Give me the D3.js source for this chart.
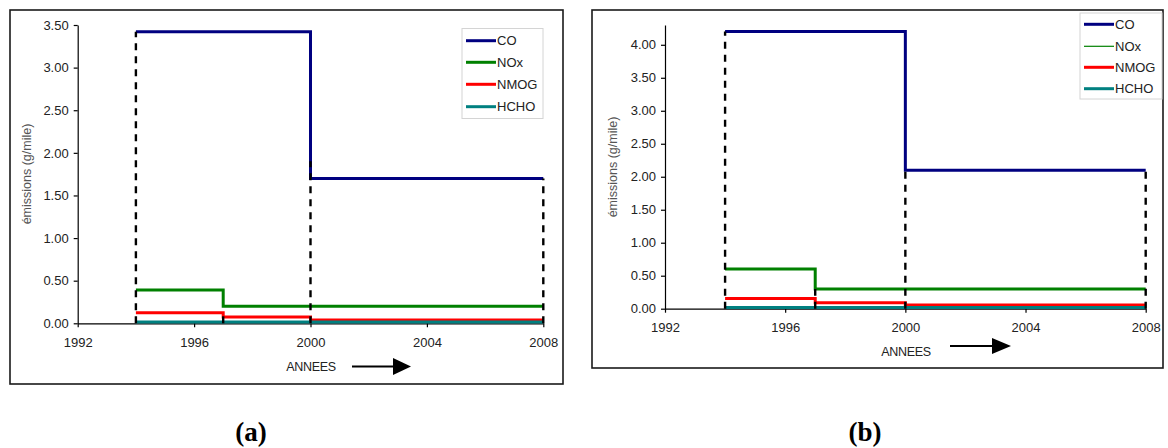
<!DOCTYPE html>
<html><head><meta charset="utf-8">
<script src="https://cdn.jsdelivr.net/npm/d3@7"></script>
<style>
html,body{margin:0;padding:0;background:#fff;}
svg{display:block;}
</style></head>
<body>
<svg id="chart" width="1168" height="448"></svg>
<script>
// ---------- data ----------
const seriesNames = ["CO", "NOx", "NMOG", "HCHO"];
const seriesColors = ["#000080", "#008000", "#ff0000", "#008080"];
const xTicks = [1992, 1996, 2000, 2004, 2008];
const yTicksA = [0, 0.5, 1, 1.5, 2, 2.5, 3, 3.5];
const yTicksB = [0, 0.5, 1, 1.5, 2, 2.5, 3, 3.5, 4];

// step breakpoints (years) and values per interval — panel (a)
const coYearsA = [1994, 2000, 2008],        coValsA = [3.42, 1.70];
const noxYearsA = [1994, 1997, 2008],       noxValsA = [0.39, 0.20];
const nmogYearsA = [1994, 1997, 2000, 2008], nmogValsA = [0.125, 0.075, 0.04];
const hchoYearsA = [1994, 2008],            hchoValsA = [0.015];
const guideYearsA = [1994, 1997, 2000, 2008], guideTopsA = [3.42, 0.13, 1.9, 1.70];

// panel (b)
const coYearsB = [1994, 2000, 2008],        coValsB = [4.2, 2.1];
const noxYearsB = [1994, 1997, 2008],       noxValsB = [0.6, 0.3];
const nmogYearsB = [1994, 1997, 2000, 2008], nmogValsB = [0.156, 0.09, 0.055];
const hchoYearsB = [1994, 2008],            hchoValsB = [0.018];
const guideYearsB = [1994, 1997, 2000, 2008], guideTopsB = [4.2, 0.3, 2.1, 2.1];

const yTitle = "émissions (g/mile)";
const xTitle = "ANNEES";

// ---------- drawing ----------
const SANS = '"Liberation Sans",Arial,sans-serif';
const SERIF = '"Liberation Serif","Times New Roman",serif';
const svg = d3.select("#chart");

function fmt(v){ return d3.format(".2f")(v); }

function drawPanel(cfg){
  const g = svg.append("g");
  // frame
  g.append("rect").attr("x", cfg.frame[0]).attr("y", cfg.frame[1])
    .attr("width", cfg.frame[2]).attr("height", cfg.frame[3])
    .attr("fill", "none").attr("stroke", "#1a1a1a").attr("stroke-width", 1.6);

  const x = d3.scaleLinear().domain([1992, 2008]).range([cfg.x0, cfg.x1]);
  const y = d3.scaleLinear().domain([0, cfg.yMax]).range([cfg.y0, cfg.yTop]);

  // y axis
  const ya = g.append("g").attr("transform", `translate(${cfg.x0},0)`)
    .call(d3.axisLeft(y).tickValues(cfg.yTicks).tickFormat(fmt).tickSize(4).tickPadding(5).tickSizeOuter(0));
  ya.select(".domain").attr("stroke", "#000").attr("stroke-width", 1.2);
  ya.selectAll(".tick line").attr("stroke", "#000").attr("stroke-width", 1.2);
  ya.selectAll(".tick text").style("font-size", "13px").attr("fill", "#222").style("font-family", SANS);

  // x axis
  const xa = g.append("g").attr("transform", `translate(0,${cfg.y0})`)
    .call(d3.axisBottom(x).tickValues(xTicks).tickFormat(d3.format("d")).tickSize(4).tickPadding(cfg.xPad).tickSizeOuter(0));
  xa.select(".domain").attr("stroke", "#000").attr("stroke-width", 1.2);
  xa.selectAll(".tick line").attr("stroke", "#000").attr("stroke-width", 1.2);
  xa.selectAll(".tick text").style("font-size", "13px").attr("fill", "#222").style("font-family", SANS);

  // series (step lines)
  const line = d3.line().x(d => x(d[0])).y(d => y(d[1])).curve(d3.curveStepAfter);
  cfg.series.forEach((s, i) => {
    const pts = s.years.map((yr, k) => [yr, s.vals[Math.min(k, s.vals.length - 1)]]);
    g.append("path").attr("d", line(pts)).attr("fill", "none")
      .attr("stroke", seriesColors[i]).attr("stroke-width", 3);
  });

  // dashed guides
  cfg.guideYears.forEach((yr, k) => {
    g.append("line").attr("x1", x(yr)).attr("x2", x(yr))
      .attr("y1", y(0)).attr("y2", y(cfg.guideTops[k]))
      .attr("stroke", "#000").attr("stroke-width", 2.4)
      .attr("stroke-dasharray", "7,6");
  });

  // legend
  const lb = cfg.legend;
  g.append("rect").attr("x", lb.x).attr("y", lb.y).attr("width", lb.w).attr("height", lb.h)
    .attr("fill", "#fff").attr("stroke", "#d4d4d4").attr("stroke-width", 1);
  seriesNames.forEach((name, i) => {
    const yy = lb.items[i];
    g.append("line").attr("x1", lb.x + 4).attr("x2", lb.x + 34).attr("y1", yy).attr("y2", yy)
      .attr("stroke", seriesColors[i]).attr("stroke-width", lb.widths[i]);
    g.append("text").attr("x", lb.x + 35).attr("y", yy + 4.7).text(name)
      .style("font-family", SANS).style("font-size", "13px").attr("fill", "#222");
  });

  // y title
  g.append("text").attr("transform", `translate(${cfg.yTitle[0]},${cfg.yTitle[1]}) rotate(-90)`)
    .attr("text-anchor", "middle").style("font-family", SANS).style("font-size", "12.5px")
    .attr("fill", "#555").text(yTitle);

  // x title with arrow
  g.append("text").attr("x", cfg.annees[0]).attr("y", cfg.annees[1]).attr("text-anchor", "middle")
    .style("font-family", SANS).style("font-size", "12.5px").attr("fill", "#222")
    .attr("letter-spacing", -0.3).text(xTitle);
  const ar = cfg.arrow;
  g.append("line").attr("x1", ar.x1).attr("x2", ar.head + 1).attr("y1", ar.y).attr("y2", ar.y)
    .attr("stroke", "#000").attr("stroke-width", 2.2);
  g.append("path").attr("d", `M${ar.head},${ar.y - ar.h / 2}L${ar.x2},${ar.y}L${ar.head},${ar.y + ar.h / 2}Z`)
    .attr("fill", "#000");

  // caption
  svg.append("text").attr("x", cfg.caption[0]).attr("y", cfg.caption[1]).attr("text-anchor", "middle")
    .style("font-family", SERIF).style("font-weight", "bold")
    .style("font-size", "27px").attr("fill", "#000").text(cfg.caption[2]);
}

drawPanel({
  frame: [10, 10, 553, 374],
  x0: 77.7, x1: 543.3, y0: 323.3, yTop: 25, yMax: 3.5, yTicks: yTicksA, xPad: 10,
  series: [
    {years: coYearsA, vals: coValsA},
    {years: noxYearsA, vals: noxValsA},
    {years: nmogYearsA, vals: nmogValsA},
    {years: hchoYearsA, vals: hchoValsA}
  ],
  guideYears: guideYearsA, guideTops: guideTopsA,
  legend: {x: 462, y: 28.5, w: 81, h: 90, items: [40.7, 62.3, 84.3, 106.7], widths: [3, 3, 3, 3]},
  yTitle: [31, 174],
  annees: [311, 371],
  arrow: {x1: 352, x2: 411, head: 393, y: 366.5, h: 17},
  caption: [251, 441, "(a)"]
});

drawPanel({
  frame: [592, 10, 571, 358],
  x0: 665, x1: 1145.7, y0: 308.7, yTop: 25, yMax: 4.3, yTicks: yTicksB, xPad: 10,
  series: [
    {years: coYearsB, vals: coValsB},
    {years: noxYearsB, vals: noxValsB},
    {years: nmogYearsB, vals: nmogValsB},
    {years: hchoYearsB, vals: hchoValsB}
  ],
  guideYears: guideYearsB, guideTops: guideTopsB,
  legend: {x: 1080, y: 13, w: 82, h: 86, items: [24.3, 46.3, 67.3, 88.7], widths: [3, 1.2, 3, 3]},
  yTitle: [617, 167],
  annees: [906, 356],
  arrow: {x1: 950, x2: 1011, head: 992, y: 346, h: 16},
  caption: [865, 441, "(b)"]
});
</script>
</body></html>
